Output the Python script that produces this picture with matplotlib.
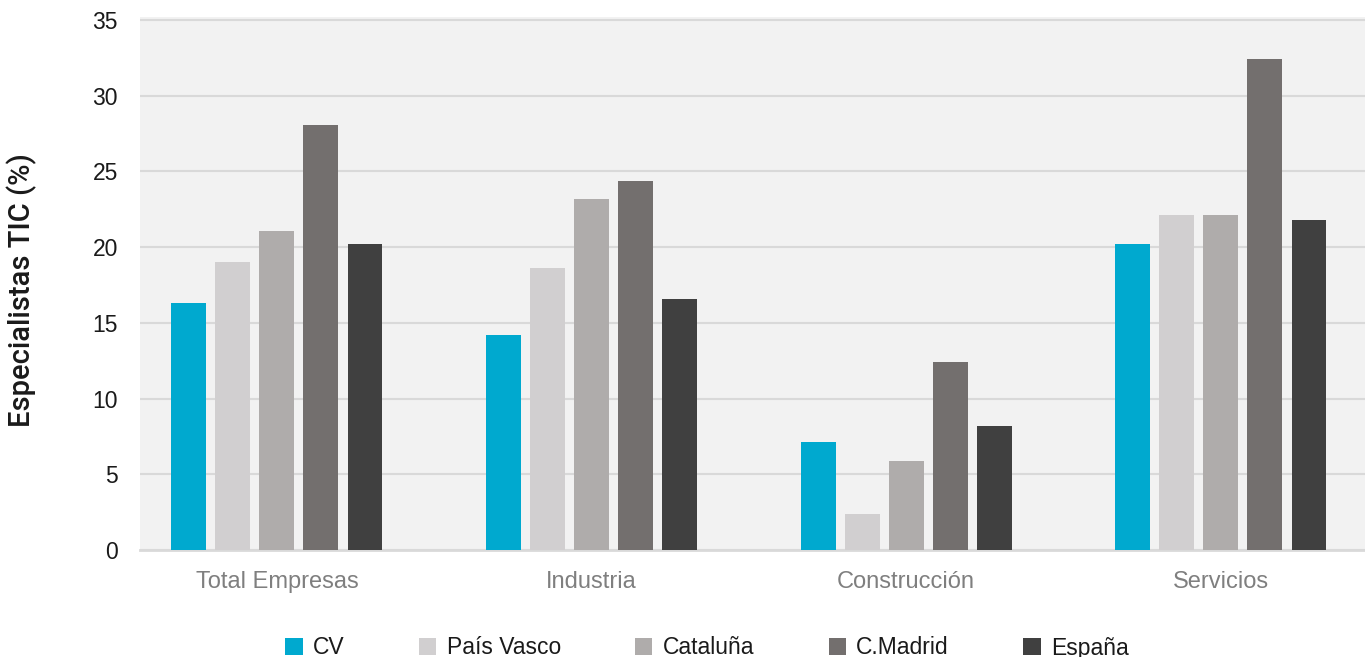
import matplotlib
matplotlib.use("Agg")
import matplotlib.pyplot as plt
import numpy as np

categories = ["Total Empresas", "Industria", "Construcción", "Servicios"]
series_names = ["CV", "País Vasco", "Cataluña", "C.Madrid", "España"]
cv = [16.3, 14.2, 7.1, 20.2]
pais_vasco = [19.0, 18.6, 2.4, 22.1]
cataluna = [21.1, 23.2, 5.9, 22.1]
madrid = [28.1, 24.4, 12.4, 32.4]
espana = [20.2, 16.6, 8.2, 21.8]
yticks = [0, 5, 10, 15, 20, 25, 30, 35]
ylabel = "Especialistas TIC (%)"

colors = ["#00a9cf", "#d1cfd0", "#afacab", "#736f6e", "#404040"]
series = [cv, pais_vasco, cataluna, madrid, espana]

plt.rcParams['font.family'] = ['Liberation Sans', 'DejaVu Sans']

fig = plt.figure(figsize=(13.65, 6.57), dpi=100)
ax = fig.add_axes([140/1365, 107/657, 1 - 140/1365, (657 - 107 - 17)/657])
ax.set_facecolor("#f2f2f2")

x = np.arange(len(categories))
step = 0.140
width = 0.111
for i, (vals, name, col) in enumerate(zip(series, series_names, colors)):
    ax.bar(x + (i - 2) * step, vals, width=width, color=col, label=name, zorder=3)

ax.set_xlim(-0.435, 3.458)
ax.set_ylim(0, 35.2)
ax.set_yticks(yticks)
ax.set_yticklabels([str(t) for t in yticks])
ax.set_xticks(x)
ax.set_xticklabels(categories)
ax.grid(axis="y", color="#d9d9d9", linewidth=1.5, zorder=1)
ax.grid(axis="x", visible=False)
for s in ["top", "right", "left"]:
    ax.spines[s].set_visible(False)
ax.spines["bottom"].set_color("#d9d9d9")
ax.spines["bottom"].set_linewidth(2)
ax.tick_params(axis="both", length=0)
ax.tick_params(axis="y", labelsize=16.5, labelcolor="#1a1a1a", pad=16)
ax.tick_params(axis="x", labelsize=17, labelcolor="#7f7f7f", pad=15)

fig.text(22/1365, (657 - 290)/657, ylabel, rotation=90, ha="center", va="center",
         fontsize=21, color="#1a1a1a", family=["Roboto", "DejaVu Sans"], fontweight="medium")

fig.legend(loc="center", bbox_to_anchor=(707/1365, 9/657), ncol=5, frameon=False,
           fontsize=16.5, handlelength=0.75, handleheight=0.75, handletextpad=0.45,
           columnspacing=3.25, labelcolor="#1a1a1a")

fig.savefig("out.png", dpi=100)
